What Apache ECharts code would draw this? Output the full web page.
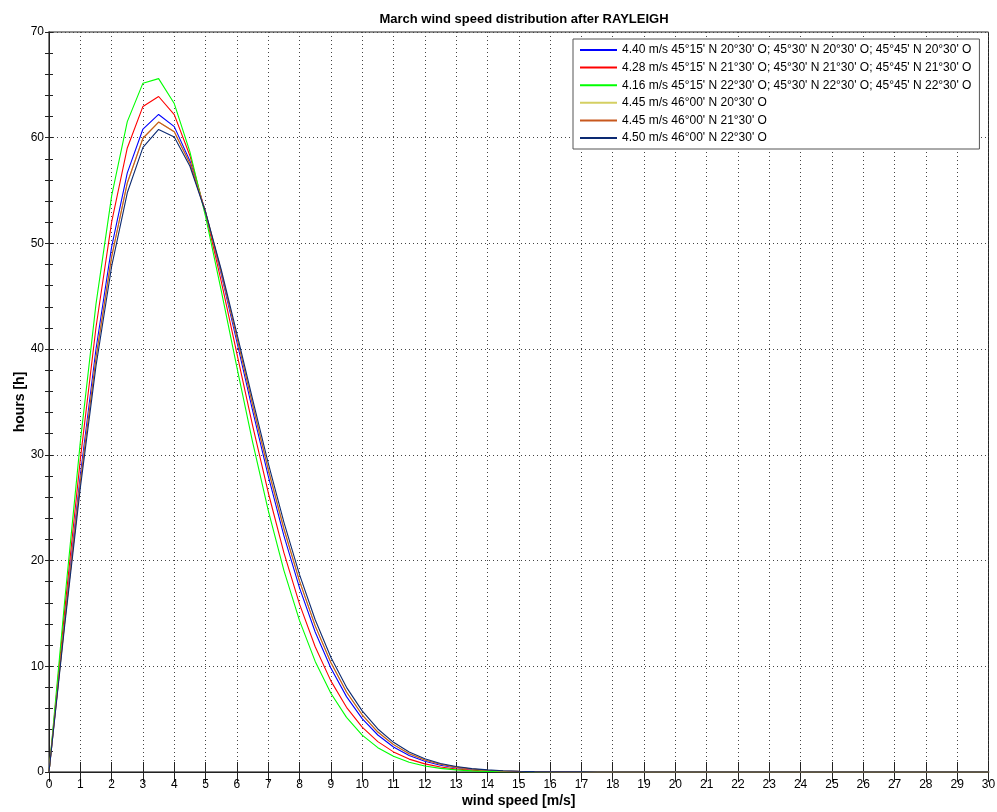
<!DOCTYPE html>
<html>
<head>
<meta charset="utf-8">
<style>
  html, body { margin: 0; padding: 0; background: #fff; }
  #chart { width: 997px; height: 812px; }
</style>
<script src="https://cdn.jsdelivr.net/npm/echarts@6/dist/echarts.min.js"></script>
</head>
<body>
<div id="chart"></div>
<script>
// Wind speed bins [m/s]
const windSpeed = [
  0, 0.5, 1, 1.5, 2, 2.5, 3, 3.5, 4, 4.5, 5, 5.5, 6, 6.5, 7, 7.5, 8, 8.5, 9, 9.5,
  10, 10.5, 11, 11.5, 12, 12.5, 13, 13.5, 14, 14.5, 15, 15.5, 16, 16.5, 17, 17.5, 18, 18.5, 19, 19.5,
  20, 20.5, 21, 21.5, 22, 22.5, 23, 23.5, 24, 24.5, 25, 25.5, 26, 26.5, 27, 27.5, 28, 28.5, 29, 29.5, 30
];

// Hours per bin for each location group
const hours440 = [
  0, 14.46, 28.05, 39.99, 49.67, 56.67, 60.82, 62.20, 61.05, 57.80, 52.97, 47.09, 40.68, 34.20, 28.01, 22.36,
  17.42, 13.24, 9.83, 7.13, 5.05, 3.50, 2.37, 1.57, 1.02, 0.64, 0.40, 0.24, 0.14, 0.08, 0.05, 0.03, 0.01, 0.01,
  0, 0, 0, 0, 0, 0, 0, 0, 0, 0, 0, 0, 0, 0, 0, 0, 0, 0, 0, 0, 0, 0, 0, 0, 0, 0, 0
];
const hours428 = [
  0, 15.27, 29.57, 42.05, 52.01, 59.03, 62.96, 63.90, 62.18, 58.30, 52.84, 46.41, 39.57, 32.79, 26.44, 20.76,
  15.88, 11.85, 8.62, 6.12, 4.24, 2.87, 1.90, 1.22, 0.77, 0.48, 0.29, 0.17, 0.10, 0.05, 0.03, 0.02, 0.01,
  0, 0, 0, 0, 0, 0, 0, 0, 0, 0, 0, 0, 0, 0, 0, 0, 0, 0, 0, 0, 0, 0, 0, 0, 0, 0, 0, 0
];
const hours416 = [
  0, 16.15, 31.23, 44.26, 54.50, 61.52, 65.16, 65.59, 63.23, 58.66, 52.54, 45.54, 38.27, 31.22, 24.75, 19.08,
  14.32, 10.46, 7.45, 5.17, 3.49, 2.30, 1.48, 0.93, 0.57, 0.34, 0.20, 0.11, 0.06, 0.03, 0.02, 0.01,
  0, 0, 0, 0, 0, 0, 0, 0, 0, 0, 0, 0, 0, 0, 0, 0, 0, 0, 0, 0, 0, 0, 0, 0, 0, 0, 0, 0, 0
];
const hours445a = [
  0, 14.14, 27.45, 39.18, 48.73, 55.72, 59.95, 61.48, 60.56, 57.56, 52.97, 47.32, 41.09, 34.74, 28.63, 23.01,
  18.05, 13.82, 10.35, 7.57, 5.41, 3.78, 2.59, 1.73, 1.13, 0.73, 0.46, 0.28, 0.17, 0.10, 0.06, 0.03, 0.02, 0.01,
  0, 0, 0, 0, 0, 0, 0, 0, 0, 0, 0, 0, 0, 0, 0, 0, 0, 0, 0, 0, 0, 0, 0, 0, 0, 0, 0
];
const hours445b = [
  0, 14.14, 27.45, 39.18, 48.73, 55.72, 59.95, 61.48, 60.56, 57.56, 52.97, 47.32, 41.09, 34.74, 28.63, 23.01,
  18.05, 13.82, 10.35, 7.57, 5.41, 3.78, 2.59, 1.73, 1.13, 0.73, 0.46, 0.28, 0.17, 0.10, 0.06, 0.03, 0.02, 0.01,
  0, 0, 0, 0, 0, 0, 0, 0, 0, 0, 0, 0, 0, 0, 0, 0, 0, 0, 0, 0, 0, 0, 0, 0, 0, 0, 0
];
const hours450 = [
  0, 13.83, 26.86, 38.39, 47.82, 54.79, 59.09, 60.78, 60.06, 57.30, 52.95, 47.51, 41.47, 35.26, 29.22, 23.64,
  18.67, 14.40, 10.86, 8.01, 5.78, 4.07, 2.81, 1.90, 1.26, 0.81, 0.52, 0.32, 0.20, 0.12, 0.07, 0.04, 0.02, 0.01, 0.01,
  0, 0, 0, 0, 0, 0, 0, 0, 0, 0, 0, 0, 0, 0, 0, 0, 0, 0, 0, 0, 0, 0, 0, 0, 0, 0
];

const seriesNames = [
  "4.40 m/s 45°15' N 20°30' O; 45°30' N 20°30' O; 45°45' N 20°30' O",
  "4.28 m/s 45°15' N 21°30' O; 45°30' N 21°30' O; 45°45' N 21°30' O",
  "4.16 m/s 45°15' N 22°30' O; 45°30' N 22°30' O; 45°45' N 22°30' O",
  "4.45 m/s 46°00' N 20°30' O",
  "4.45 m/s 46°00' N 21°30' O",
  "4.50 m/s 46°00' N 22°30' O"
];
const seriesValues = [hours440, hours428, hours416, hours445a, hours445b, hours450];
const seriesColors = ['#0000ff', '#ff0000', '#00ff00', '#d4cf62', '#c8581e', '#0c2a72'];

const xTicks = [0, 30, 1];     // min, max, interval
const yTicks = [0, 70, 10];

const FONT = '"Liberation Sans", Arial, sans-serif';

const chart = echarts.init(document.getElementById('chart'), null, { renderer: 'canvas' });

const series = seriesNames.map((name, i) => ({
  name: name,
  type: 'line',
  xAxisIndex: 0,
  yAxisIndex: 0,
  symbol: 'none',
  showSymbol: false,
  animation: false,
  lineStyle: { color: seriesColors[i], width: 1.1 },
  itemStyle: { color: seriesColors[i] },
  data: windSpeed.map((v, j) => [v, seriesValues[i][j]])
}));

const axisLabelStyle = { color: '#000', fontSize: 12, fontFamily: FONT };
const gridLine = { show: true, lineStyle: { color: '#444', type: [1, 3], width: 1 } };

chart.setOption({
  animation: false,
  backgroundColor: '#fff',
  title: {
    text: 'March wind speed distribution after RAYLEIGH',
    left: 519,
    top: 8,
    textAlign: 'center',
    textStyle: { fontSize: 13, fontWeight: 'bold', color: '#000', fontFamily: FONT }
  },
  grid: {
    left: 49, right: 8.5, top: 32, bottom: 40,
    outerBoundsMode: 'none',
    containLabel: false,
    show: true, borderColor: '#222', borderWidth: 1, backgroundColor: '#fff'
  },
  legend: {
    orient: 'vertical',
    left: 573,
    top: 39,
    padding: [4, 8, 4, 7],
    icon: 'rect',
    itemWidth: 37,
    itemHeight: 2,
    itemGap: 3.6,
    backgroundColor: '#fff',
    borderColor: '#555',
    borderWidth: 1,
    borderRadius: 0,
    textStyle: { fontSize: 12, color: '#000', fontFamily: FONT, lineHeight: 14 },
    data: seriesNames
  },
  xAxis: [
    {
      type: 'value',
      min: xTicks[0], max: xTicks[1], interval: xTicks[2],
      position: 'bottom',
      name: 'wind speed [m/s]',
      nameLocation: 'middle',
      nameGap: 22,
      nameMoveOverlap: false,
      nameTextStyle: { fontSize: 14, fontWeight: 'bold', color: '#000', fontFamily: FONT },
      axisLine: { show: true, onZero: false, lineStyle: { color: '#808080', width: 2 } },
      axisTick: { show: true, inside: true, length: 10, lineStyle: { color: '#222' } },
      axisLabel: Object.assign({ margin: 7 }, axisLabelStyle),
      splitLine: gridLine
    },
    {
      type: 'value',
      min: xTicks[0], max: xTicks[1], interval: xTicks[2],
      position: 'top',
      axisLine: { show: true, lineStyle: { color: '#222', width: 1 } },
      axisTick: { show: true, inside: true, length: 10, lineStyle: { color: '#222' } },
      axisLabel: { show: false },
      splitLine: { show: false }
    }
  ],
  yAxis: [
    {
      type: 'value',
      min: yTicks[0], max: yTicks[1], interval: yTicks[2],
      position: 'left',
      name: 'hours [h]',
      nameLocation: 'middle',
      nameGap: 22,
      nameMoveOverlap: false,
      nameRotate: 90,
      nameTextStyle: { fontSize: 14, fontWeight: 'bold', color: '#000', fontFamily: FONT },
      axisLine: { show: true, onZero: false, lineStyle: { color: '#808080', width: 2 } },
      axisTick: { show: true, inside: true, length: 4, lineStyle: { color: '#222' } },
      minorTick: { show: true, splitNumber: 5, length: 4, lineStyle: { color: '#222' } },
      axisLabel: Object.assign({ margin: 5 }, axisLabelStyle),
      splitLine: gridLine
    },
    {
      type: 'value',
      min: yTicks[0], max: yTicks[1], interval: yTicks[2],
      position: 'right',
      axisLine: { show: true, lineStyle: { color: '#222', width: 1 } },
      axisTick: { show: true, inside: true, length: 4, lineStyle: { color: '#222' } },
      minorTick: { show: true, splitNumber: 5, length: 4, lineStyle: { color: '#222' } },
      axisLabel: { show: false },
      splitLine: { show: false }
    }
  ],
  series: series
});
</script>
</body>
</html>
